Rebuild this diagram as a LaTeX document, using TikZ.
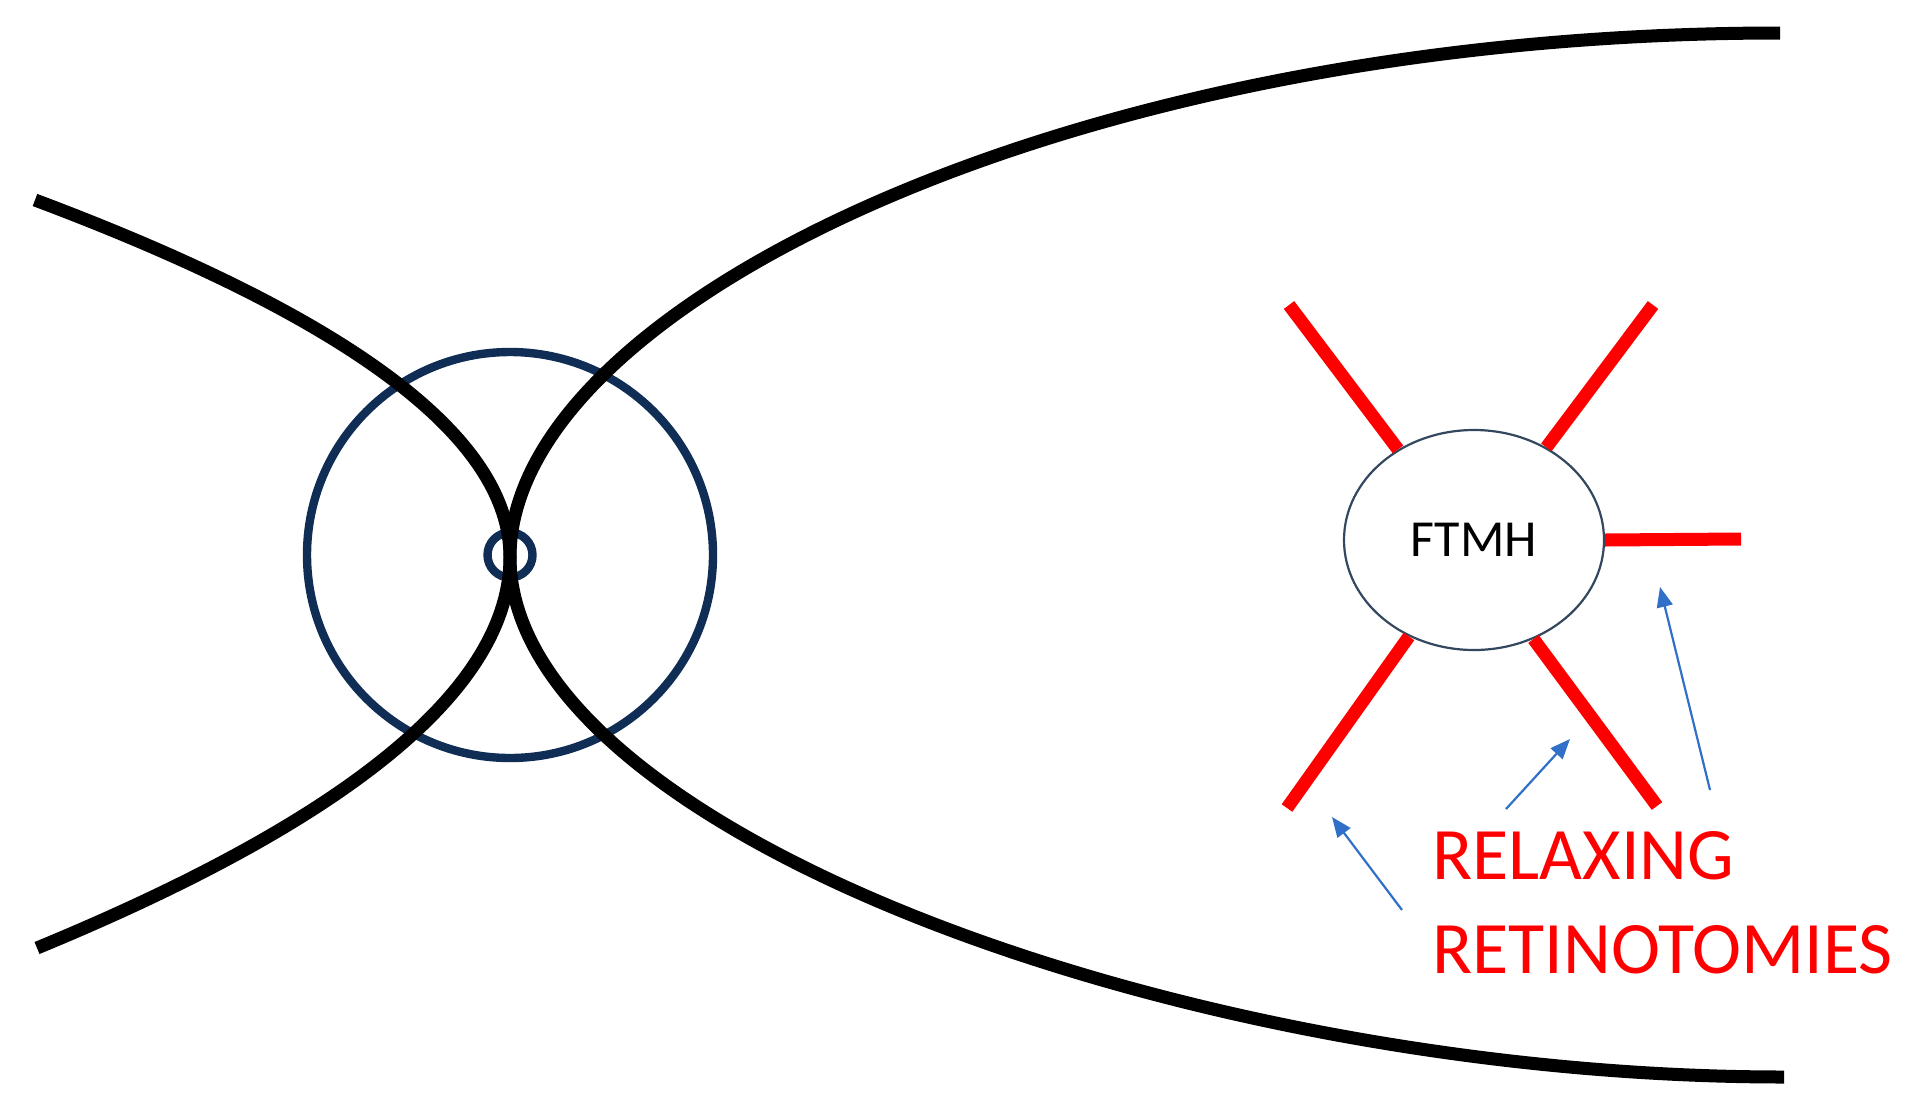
\documentclass[tikz,border=0pt]{standalone}
\usepackage{fontspec}
\setmainfont{Carlito}
\usepackage{tikz}
\usetikzlibrary{arrows.meta,positioning,calc,shapes.geometric}
\usepackage{xcolor}
\definecolor{navy}{HTML}{102D55}
\definecolor{holeline}{HTML}{33475F}
\definecolor{cut}{HTML}{FF0000}
\definecolor{arrowblue}{HTML}{3070C8}
\tikzset{
  fold/.style={draw=black,line width=6.5pt},
  ring/.style={draw=navy,line width=4.2pt},
  hole/.style={draw=holeline,fill=white,ellipse,line width=1.1pt,
    minimum width=130pt,minimum height=110pt,inner sep=0pt,
    font=\fontsize{26}{30}\selectfont},
  incision/.style={draw=cut,line width=6.5pt},
  pointer/.style={-{Triangle[length=10pt,width=8pt]},draw=arrowblue,line width=1.1pt},
  labelstyle/.style={text=cut,font=\fontsize{37}{44}\selectfont,inner sep=0pt,anchor=base west}
}

\begin{document}
\begin{tikzpicture}[x=0.5pt,y=-0.5pt]
      \useasboundingbox (0,0) rectangle (1926,1119);
      % macula rings
      \draw[ring] (510,555) circle[radius=203];
      \draw[ring] (510,555) circle[radius=22.5];
      % retinal folds
      \coordinate (apex) at (510,557);
      \draw[fold] (35,200) .. controls (352,319) and (510,438) .. (apex)
        .. controls (510,687) and (352,818) .. (37,948);
      \draw[fold] (1780,33) .. controls (1070,33) and (510,307) .. (apex)
        .. controls (510,830) and (1185,1077) .. (1784,1077);
      % hole and cuts
      \node[hole] (ftmh) at (1474,540) {FTMH};
      \coordinate (cutnw) at (1289,305);
      \coordinate (cutne) at (1653,305);
      \coordinate (cute) at (1741,539);
      \coordinate (cutsw) at (1287,808);
      \coordinate (cutse) at (1657,806);
      \foreach \ang/\tip in {130/cutnw,52/cutne,0/cute,236/cutsw,301/cutse}
        \draw[incision] (ftmh.\ang) -- (\tip);
      \node[labelstyle] (relax) at (1432,879) {RELAXING};
      \node[labelstyle] (retino) at (1432,973) {RETINOTOMIES};
      \coordinate (tail1) at (1402,910);
      \coordinate (head1) at (1332,817);
      \coordinate (tail2) at (1506,809);
      \coordinate (head2) at (1570,739);
      \coordinate (tail3) at (1710,790);
      \coordinate (head3) at (1660,587);
      \draw[pointer] (tail1) -- (head1);
      \draw[pointer] (tail2) -- (head2);
      \draw[pointer] (tail3) -- (head3);
    \end{tikzpicture}
\end{document}
